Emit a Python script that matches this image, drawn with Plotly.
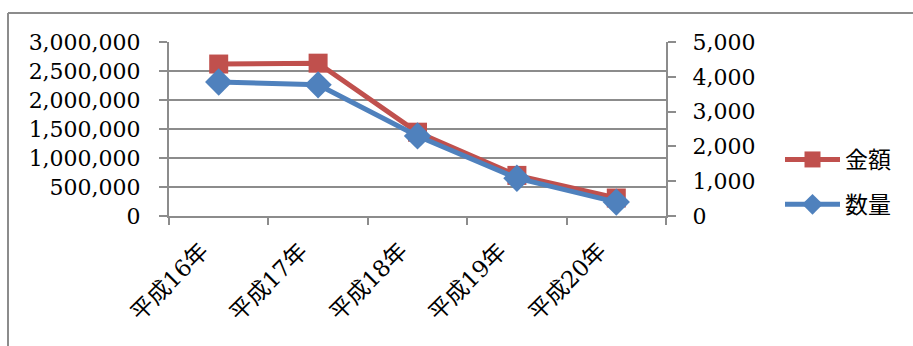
import plotly.graph_objects as go

categories = ["平成16年", "平成17年", "平成18年", "平成19年", "平成20年"]
kingaku = [2620000, 2635000, 1445000, 700000, 310000]
suryo = [3850, 3770, 2300, 1085, 400]
left_ticks = [0, 500000, 1000000, 1500000, 2000000, 2500000, 3000000]
right_ticks = [0, 1000, 2000, 3000, 4000, 5000]

RED = "#C0504D"
BLUE = "#4F81BD"
GRID = "#8C8C8C"
FONT = "DejaVu Serif, Noto Sans CJK JP"

fig = go.Figure()
fig.add_trace(go.Scatter(
    x=categories, y=kingaku, name="金額", mode="lines+markers",
    line=dict(color=RED, width=5),
    marker=dict(symbol="square", size=19, color=RED),
    legendgroup="a", yaxis="y",
))
fig.add_trace(go.Scatter(
    x=categories, y=suryo, name="数量", mode="lines+markers",
    line=dict(color=BLUE, width=5),
    marker=dict(symbol="diamond", size=21, color=BLUE),
    legendgroup="b", yaxis="y2",
))

L, R, T, B = 169, 666, 42, 216
W, H = 913, 346
pw, ph = R - L, B - T

def px(x):
    return (x - L) / pw

def py(y):
    return (B - y) / ph

# category labels as rotated annotations (placed on the category axis)
for c in categories:
    fig.add_annotation(
        x=c, y=0, xref="x", yref="paper", text=c, showarrow=False,
        textangle=-45, xanchor="right", yanchor="top",
        xshift=-3, yshift=-19,
        font=dict(family=FONT, size=23, color="black"),
    )

fig.update_layout(
    width=W, height=H,
    margin=dict(l=L, r=W - R, t=T, b=H - B),
    paper_bgcolor="white", plot_bgcolor="white",
    font=dict(family=FONT, size=22, color="black"),
    showlegend=True,
    legend=dict(
        x=px(780), y=py(138), xanchor="left", yanchor="top",
        tracegroupgap=12, itemwidth=55,
        font=dict(family=FONT, size=23, color="black"),
        bgcolor="rgba(0,0,0,0)",
    ),
    xaxis=dict(
        type="category", range=[-0.5, len(categories) - 0.5],
        showgrid=False, showline=True, linecolor=GRID, linewidth=2,
        ticks="outside", tickson="boundaries", tickcolor=GRID, tickwidth=2, ticklen=7,
        showticklabels=False,
    ),
    yaxis=dict(
        range=[0, 3000000], tickvals=left_ticks,
        tickformat=",d", showgrid=True, gridcolor=GRID, gridwidth=1.5,
        showline=True, linecolor=GRID, linewidth=2, zeroline=False,
        ticks="outside", tickcolor=GRID, tickwidth=2, ticklen=8,
        tickfont=dict(family=FONT, size=22), ticklabelstandoff=14,
    ),
    yaxis2=dict(
        range=[0, 5000], tickvals=right_ticks, tickformat=",d",
        overlaying="y", side="right", showgrid=False,
        showline=True, linecolor=GRID, linewidth=2, zeroline=False,
        ticks="outside", tickcolor=GRID, tickwidth=2, ticklen=8,
        tickfont=dict(family=FONT, size=22), ticklabelstandoff=12,
    ),
    shapes=[
        dict(type="line", xref="paper", yref="paper",
             x0=px(8), x1=px(920), y0=py(13), y1=py(13),
             line=dict(color=GRID, width=2)),
        dict(type="line", xref="paper", yref="paper",
             x0=px(8), x1=px(8), y0=py(13), y1=py(350),
             line=dict(color=GRID, width=2)),
    ],
)

fig.write_html("out.html")
